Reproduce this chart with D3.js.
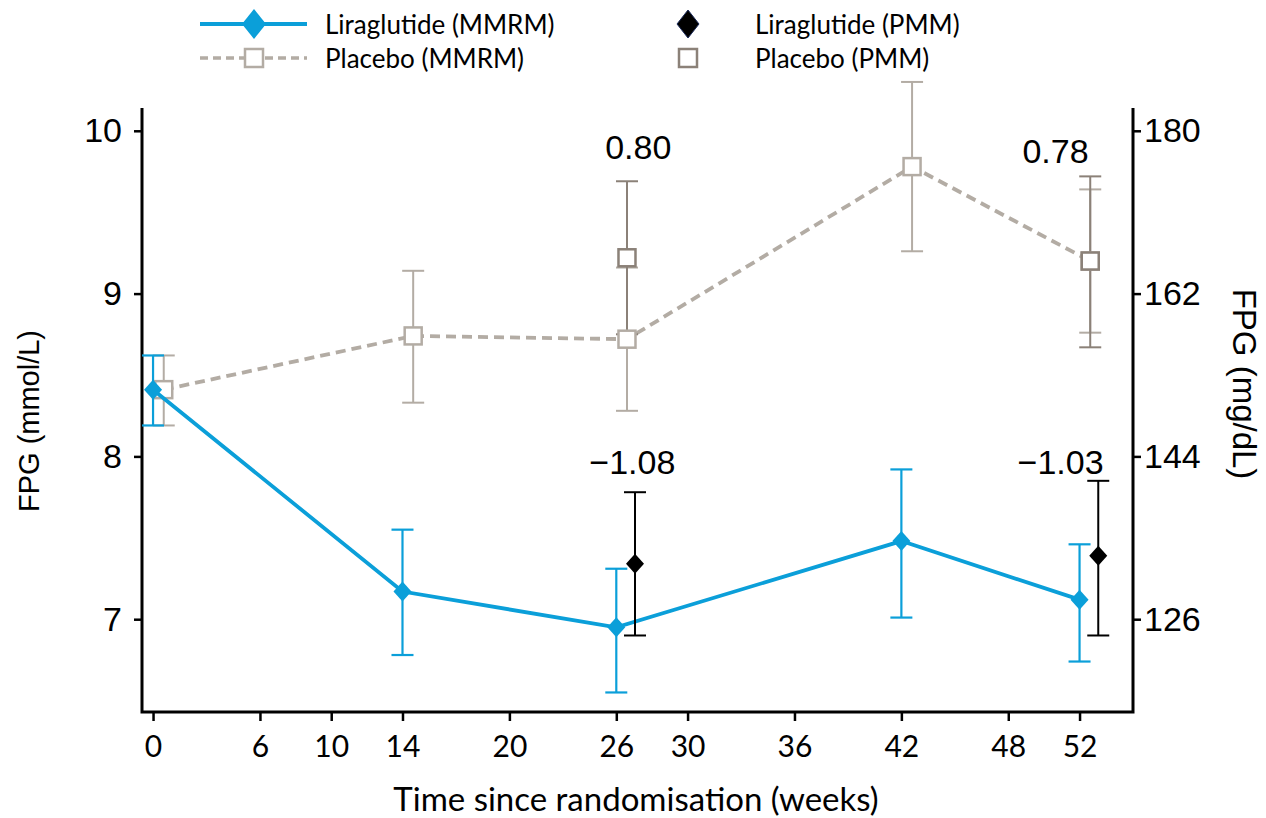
<html>
<head>
  <meta charset="UTF-8">
  <title>FPG over time</title>
  <script src="https://d3js.org/d3.v7.min.js"></script>
</head>
<body style="margin:0;background:#fff">
<script>

var width = 1266,
    height = 818;

// data (FPG, mmol/L)
var weeks = [0, 14, 26, 42, 52];
var xTicks = [0, 6, 10, 14, 20, 26, 30, 36, 42, 48, 52];
var leftTicks = [7, 8, 9, 10];
var rightTicks = [126, 144, 162, 180];

var liraMean = [8.41, 7.17, 6.95, 7.48, 7.12];
var liraLow  = [8.19, 6.78, 6.55, 7.01, 6.74];
var liraHigh = [8.62, 7.55, 7.31, 7.92, 7.46];

var placMean = [8.41, 8.74, 8.72, 9.78, 9.20];
var placLow  = [8.19, 8.33, 8.28, 9.26, 8.76];
var placHigh = [8.62, 9.14, 9.16, 10.30, 9.64];

var pmmWeeks = [26, 52];
var liraPmmMean = [7.34, 7.39];
var liraPmmLow  = [6.90, 6.90];
var liraPmmHigh = [7.78, 7.85];
var placPmmMean = [9.22, 9.20];
var placPmmLow  = [8.75, 8.67];
var placPmmHigh = [9.69, 9.72];

var liraDiff = ["\u22121.08", "\u22121.03"];
var placDiff = ["0.80", "0.78"];

var blue = '#0b9fd9',
    placGrey = '#b3aca4',
    pmmGrey = '#8b8178';

var arial = '"Liberation Sans", Arial, sans-serif',
    calibri = 'Lato, "Open Sans", sans-serif';

var svg = d3.select('body')
  .append('svg')
  .attr('width', width)
  .attr('height', height);

var x = d3.scaleLinear().domain([-0.62, 55.0]).range([142, 1133]);
var y = d3.scaleLinear().domain([6.43, 10.14]).range([712, 108]);
var yMg = d3.scaleLinear().domain([6.43 * 18, 10.14 * 18]).range([712, 108]);

function styleAxis(g, font, size) {
  g.select('.domain').remove();
  g.selectAll('line').attr('stroke', '#000').attr('stroke-width', 2.5);
  g.selectAll('text')
    .style('font-family', font)
    .style('font-size', size + 'px')
    .attr('fill', '#000');
}

// axes
var gx = svg.append('g')
  .attr('transform', 'translate(0,712)')
  .call(d3.axisBottom(x).tickValues(xTicks).tickSize(9).tickPadding(15).tickSizeOuter(0));
styleAxis(gx, calibri, 30);

var gl = svg.append('g')
  .attr('transform', 'translate(142,0)')
  .call(d3.axisLeft(y).tickValues(leftTicks).tickSize(8).tickPadding(12).tickFormat(d3.format('d')));
styleAxis(gl, arial, 34);

var gr = svg.append('g')
  .attr('transform', 'translate(1133,0)')
  .call(d3.axisRight(yMg).tickValues(rightTicks).tickSize(8).tickPadding(3).tickFormat(d3.format('d')));
styleAxis(gr, arial, 34);

// frame lines
svg.append('path')
  .attr('d', 'M142,108V712H1133V108')
  .attr('fill', 'none')
  .attr('stroke', '#000')
  .attr('stroke-width', 3);

// axis titles
svg.append('text')
  .style('font-family', arial)
  .style('font-size', '29px')
  .attr('text-anchor', 'middle')
  .attr('transform', 'translate(39,421) rotate(-90)')
  .text('FPG (mmol/L)');

svg.append('text')
  .style('font-family', arial)
  .style('font-size', '33px')
  .attr('text-anchor', 'middle')
  .attr('transform', 'translate(1233,384) rotate(90)')
  .text('FPG (mg/dL)');

svg.append('text')
  .style('font-family', calibri)
  .style('font-size', '33px')
  .attr('text-anchor', 'middle')
  .attr('x', 636)
  .attr('y', 811)
  .text('Time since randomisation (weeks)');

function diamond(s) {
  return 'M0,' + (-s) + 'L' + (s * 0.9) + ',0L0,' + s + 'L' + (-s * 0.9) + ',0Z';
}

function errorBars(g, xs, lo, hi, color, cap, sw) {
  xs.forEach(function(xv, i) {
    var px = x(xv);
    g.append('line').attr('x1', px).attr('x2', px)
      .attr('y1', y(lo[i])).attr('y2', y(hi[i]))
      .attr('stroke', color).attr('stroke-width', sw);
    [lo[i], hi[i]].forEach(function(v) {
      g.append('line').attr('x1', px - cap).attr('x2', px + cap)
        .attr('y1', y(v)).attr('y2', y(v))
        .attr('stroke', color).attr('stroke-width', sw);
    });
  });
}

var plot = svg.append('g');

var placX = weeks.map(function(w) { return w + 0.6; });
var liraPmmX = pmmWeeks.map(function(w) { return w + 1.05; });
var placPmmX = pmmWeeks.map(function(w) { return w + 0.6; });

// placebo MMRM
errorBars(plot, placX, placLow, placHigh, placGrey, 11, 2);
plot.append('path')
  .datum(placMean)
  .attr('fill', 'none')
  .attr('stroke', placGrey)
  .attr('stroke-width', 3.8)
  .attr('stroke-dasharray', '10,6')
  .attr('d', d3.line().x(function(d, i) { return x(placX[i]); }).y(function(d) { return y(d); }));

// placebo PMM
errorBars(plot, placPmmX, placPmmLow, placPmmHigh, pmmGrey, 11, 2);

plot.selectAll('.plac-sq')
  .data(placMean)
  .enter()
  .append('rect')
  .attr('x', function(d, i) { return x(placX[i]) - 8.5; })
  .attr('y', function(d) { return y(d) - 8.5; })
  .attr('width', 17).attr('height', 17)
  .attr('fill', '#fff')
  .attr('stroke', placGrey)
  .attr('stroke-width', 2.5);

plot.selectAll('.pmm-sq')
  .data(placPmmMean)
  .enter()
  .append('rect')
  .attr('x', function(d, i) { return x(placPmmX[i]) - 8.5; })
  .attr('y', function(d) { return y(d) - 8.5; })
  .attr('width', 17).attr('height', 17)
  .attr('fill', '#fff')
  .attr('stroke', pmmGrey)
  .attr('stroke-width', 2.5);

// liraglutide MMRM
errorBars(plot, weeks, liraLow, liraHigh, blue, 11, 2.2);
plot.append('path')
  .datum(liraMean)
  .attr('fill', 'none')
  .attr('stroke', blue)
  .attr('stroke-width', 3.8)
  .attr('d', d3.line().x(function(d, i) { return x(weeks[i]); }).y(function(d) { return y(d); }));
plot.selectAll('.lira-pt')
  .data(liraMean)
  .enter()
  .append('path')
  .attr('transform', function(d, i) { return 'translate(' + x(weeks[i]) + ',' + y(d) + ')'; })
  .attr('d', diamond(10))
  .attr('fill', blue);

// liraglutide PMM
errorBars(plot, liraPmmX, liraPmmLow, liraPmmHigh, '#000', 11, 2);
plot.selectAll('.pmm-pt')
  .data(liraPmmMean)
  .enter()
  .append('path')
  .attr('transform', function(d, i) { return 'translate(' + x(liraPmmX[i]) + ',' + y(d) + ')'; })
  .attr('d', diamond(10))
  .attr('fill', '#000');

// difference labels
var placDx = [22, -24],
    placDy = [159, 163],
    liraDx = [16, -19];

plot.selectAll('.pd')
  .data(placDiff)
  .enter()
  .append('text')
  .style('font-family', arial)
  .style('font-size', '34px')
  .attr('text-anchor', 'middle')
  .attr('x', function(d, i) { return x(pmmWeeks[i]) + placDx[i]; })
  .attr('y', function(d, i) { return placDy[i]; })
  .text(function(d) { return d; });

plot.selectAll('.ld')
  .data(liraDiff)
  .enter()
  .append('text')
  .style('font-family', arial)
  .style('font-size', '34px')
  .attr('text-anchor', 'middle')
  .attr('x', function(d, i) { return x(pmmWeeks[i]) + liraDx[i]; })
  .attr('y', 474)
  .text(function(d) { return d; });

// legend
var leg = svg.append('g');
leg.append('line').attr('x1', 200).attr('x2', 307).attr('y1', 24).attr('y2', 24)
  .attr('stroke', blue).attr('stroke-width', 4);
leg.append('path').attr('transform', 'translate(254,24)').attr('d', 'M0,-15L12,0L0,15L-12,0Z').attr('fill', blue);
leg.append('line').attr('x1', 200).attr('x2', 307).attr('y1', 58).attr('y2', 58)
  .attr('stroke', placGrey).attr('stroke-width', 3.5).attr('stroke-dasharray', '8,5');
leg.append('rect').attr('x', 245).attr('y', 49).attr('width', 18).attr('height', 18)
  .attr('fill', '#fff').attr('stroke', placGrey).attr('stroke-width', 2.5);
leg.append('path').attr('transform', 'translate(688,24)').attr('d', 'M0,-14L11,0L0,14L-11,0Z')
  .attr('fill', '#000').attr('stroke', '#1a2a5a').attr('stroke-width', 1);
leg.append('rect').attr('x', 679).attr('y', 49).attr('width', 18).attr('height', 18)
  .attr('fill', '#fff').attr('stroke', pmmGrey).attr('stroke-width', 2.5);

var legLabels = ['Liraglutide (MMRM)', 'Placebo (MMRM)', 'Liraglutide (PMM)', 'Placebo (PMM)'];
var legX = [325, 325, 755, 755],
    legY = [25, 59, 25, 59];
leg.selectAll('.lt')
  .data(legLabels)
  .enter()
  .append('text')
  .style('font-family', calibri)
  .style('font-size', '26px')
  .attr('x', function(d, i) { return legX[i]; })
  .attr('y', function(d, i) { return legY[i]; })
  .attr('dy', '0.35em')
  .text(function(d) { return d; });

</script>
</body>
</html>
